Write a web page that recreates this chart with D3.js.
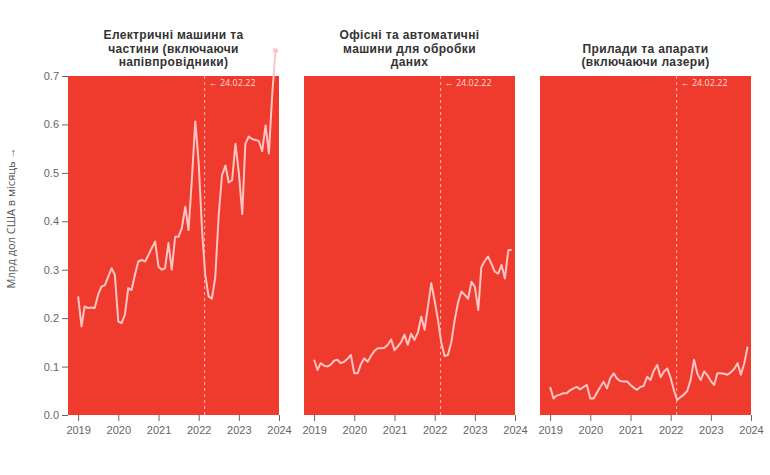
<!DOCTYPE html>
<html><head><meta charset="utf-8">
<script src="https://cdn.jsdelivr.net/npm/d3@7"></script>
<style>
body{margin:0;background:#fff;font-family:"Open Sans","Noto Sans",sans-serif;}
</style></head>
<body><svg id="c" width="770" height="475"></svg>
<script>
const titles = [
  ["Електричні машини та", "частини (включаючи", "напівпровідники)"],
  ["Офісні та автоматичні", "машини для обробки", "даних"],
  ["Прилади та апарати", "(включаючи лазери)"]
];
const startYear = 2019;
const electrical = [0.245,0.183,0.224,0.221,0.222,0.221,0.248,0.265,0.268,0.285,0.303,0.289,
  0.193,0.190,0.207,0.262,0.258,0.290,0.317,0.320,0.317,0.330,0.345,0.358,
  0.306,0.300,0.303,0.355,0.300,0.368,0.368,0.386,0.430,0.382,0.490,0.606,
  0.520,0.380,0.290,0.245,0.240,0.285,0.410,0.495,0.515,0.480,0.485,0.560,
  0.500,0.415,0.560,0.575,0.570,0.568,0.566,0.545,0.598,0.540,0.665,0.752];
const office = [0.114,0.093,0.107,0.102,0.100,0.104,0.112,0.114,0.107,0.110,0.116,0.124,
  0.086,0.086,0.105,0.117,0.110,0.122,0.132,0.138,0.138,0.139,0.145,0.156,
  0.134,0.142,0.150,0.166,0.145,0.168,0.155,0.170,0.203,0.176,0.225,0.272,
  0.235,0.195,0.150,0.122,0.124,0.150,0.195,0.232,0.255,0.248,0.240,0.275,
  0.265,0.217,0.305,0.318,0.327,0.312,0.296,0.292,0.310,0.282,0.340,0.341];
const instruments = [0.058,0.034,0.040,0.042,0.045,0.045,0.051,0.055,0.058,0.053,0.058,0.062,
  0.034,0.034,0.046,0.058,0.069,0.055,0.076,0.086,0.075,0.070,0.069,0.069,
  0.062,0.056,0.052,0.058,0.060,0.079,0.072,0.092,0.103,0.078,0.090,0.096,
  0.076,0.050,0.031,0.037,0.042,0.050,0.072,0.114,0.085,0.072,0.090,0.082,
  0.070,0.062,0.086,0.086,0.085,0.083,0.088,0.095,0.107,0.083,0.107,0.141];
const seriesList = [electrical, office, instruments];
const xTicks = [2019,2020,2021,2022,2023,2024];
const yTicks = [0,0.1,0.2,0.3,0.4,0.5,0.6,0.7];
const invasionDate = "2022-02-24";
const invasionLabel = "← 24.02.22";
const yLabel = "Млрд дол США в місяць →";

const svg = d3.select("#c");
const plotTop = 76, plotBottom = 415, panelW = 211, gap = 25, left0 = 68;
const y = d3.scaleLinear().domain([0,0.7]).range([plotBottom, plotTop]);
const parse = d3.timeParse("%Y-%m-%d");
const bg = "#EE3B2D", lineCol = "#FFC4C4", textCol = "#333", tickCol = "#666";

seriesList.forEach((vals, i) => {
  const x0 = left0 + i*(panelW+gap);
  const x = d3.scaleTime()
    .domain([new Date(2018,9,1), new Date(2024,0,1)])
    .range([x0, x0+panelW]);
  const g = svg.append("g");
  g.append("rect").attr("x", x0).attr("y", plotTop).attr("width", panelW).attr("height", plotBottom-plotTop).attr("fill", bg);
  const data = vals.map((v, m) => ({d: new Date(startYear, m, 1), v}));
  const xa = g.append("g").attr("transform", `translate(0,${plotBottom})`)
    .call(d3.axisBottom(x).tickValues(xTicks.map(yy => new Date(yy,0,1))).tickFormat(d3.timeFormat("%Y")).tickSize(6).tickSizeOuter(0));
  xa.select(".domain").remove();
  xa.selectAll("line").attr("stroke", tickCol);
  xa.selectAll("text").attr("fill", tickCol).attr("font-size", 11).attr("dy", "0.9em");
  if (i === 0) {
    const ya = g.append("g").attr("transform", `translate(${x0},0)`)
      .call(d3.axisLeft(y).tickValues(yTicks).tickFormat(d3.format(".1f")).tickSize(6).tickSizeOuter(0));
    ya.select(".domain").remove();
    ya.selectAll("line").attr("stroke", tickCol);
    ya.selectAll("text").attr("fill", tickCol).attr("font-size", 11);
  }
  const xi = x(parse(invasionDate));
  g.append("line").attr("x1", xi).attr("x2", xi).attr("y1", plotTop).attr("y2", plotBottom)
    .attr("stroke", "#FFD0D0").attr("stroke-dasharray", "3,3").attr("stroke-width", 1).attr("opacity", 0.85);
  g.append("text").attr("x", xi+4).attr("y", plotTop+10).attr("fill", "#FFD6D6").attr("font-size", 9).text(invasionLabel);
  const line = d3.line().x(d => x(d.d)).y(d => y(d.v));
  g.append("path").datum(data).attr("d", line).attr("fill", "none")
    .attr("stroke", lineCol).attr("stroke-width", 2).attr("stroke-linejoin", "round");
  g.selectAll("circle.over").data(data.filter(d => d.v > 0.7)).join("circle")
    .attr("cx", d => x(d.d)).attr("cy", d => y(d.v)).attr("r", 2.5).attr("fill", lineCol);
  const t = titles[i];
  const cx = x0 + panelW/2;
  t.forEach((s, k) => {
    g.append("text").attr("x", cx).attr("y", 66 - (t.length-1-k)*13.5)
      .attr("text-anchor", "middle").attr("font-weight", "bold").attr("font-size", 12)
      .attr("font-family", "'Liberation Sans', Arial, sans-serif").attr("letter-spacing", 0.35)
      .attr("fill", textCol).text(s);
  });
});
svg.append("text").attr("transform", "translate(15,218) rotate(-90)")
  .attr("text-anchor", "middle").attr("font-size", 11).attr("fill", "#555").text(yLabel);
</script></body></html>
